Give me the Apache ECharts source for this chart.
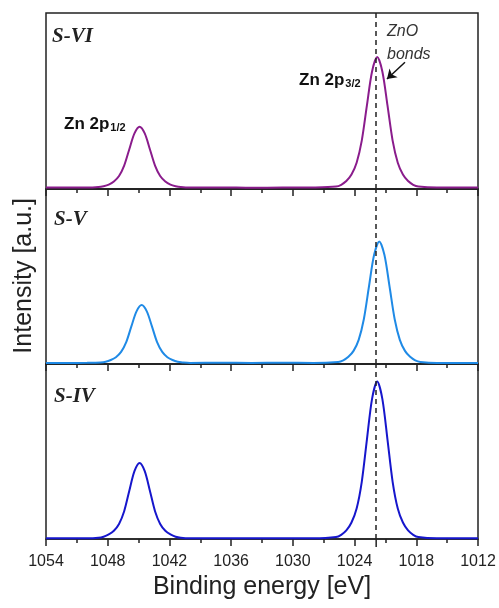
<!DOCTYPE html>
<html>
<head>
<meta charset="utf-8">
<script src="https://cdn.jsdelivr.net/npm/echarts@6/dist/echarts.min.js"></script>
<style>
  html, body { margin: 0; padding: 0; background: #fff; }
  #chart { width: 499px; height: 608px; }
</style>
</head>
<body>
<div id="chart"></div>
<script>
// binding energy grid (eV), denser around the two Zn 2p peaks
var energy = [1054, 1052, 1050,
  1048.9, 1048.4, 1047.9, 1047.4, 1046.9, 1046.4, 1045.9, 1045.4, 1044.9, 1044.4, 1043.9, 1043.4, 1042.9, 1042.4, 1041.9, 1041.4, 1040.9,
  1040, 1037, 1034, 1031, 1028,
  1025.8, 1025.3, 1024.8, 1024.3, 1023.8, 1023.3, 1022.8, 1022.3, 1021.8, 1021.3, 1020.8, 1020.3, 1019.8, 1019.3, 1018.8, 1018.3, 1017.8,
  1016, 1014, 1012];

// S-V peaks sit about 0.2 eV lower
var energyV = [1054, 1052, 1050,
  1048.7, 1048.2, 1047.7, 1047.2, 1046.7, 1046.2, 1045.7, 1045.2, 1044.7, 1044.2, 1043.7, 1043.2, 1042.7, 1042.2, 1041.7, 1041.2, 1040.7,
  1040, 1037, 1034, 1031, 1028,
  1025.6, 1025.1, 1024.6, 1024.1, 1023.6, 1023.1, 1022.6, 1022.1, 1021.6, 1021.1, 1020.6, 1020.1, 1019.6, 1019.1, 1018.6, 1018.1, 1017.6,
  1016, 1014, 1012];

// intensities (a.u., each panel scaled 0..1)
var sVI = [0.008, 0.009, 0.008,
  0.011, 0.016, 0.025, 0.043, 0.074, 0.133, 0.226, 0.316, 0.354, 0.316, 0.226, 0.133, 0.074, 0.043, 0.025, 0.016, 0.011,
  0.008, 0.009, 0.007, 0.008, 0.009,
  0.014, 0.024, 0.045, 0.082, 0.149, 0.275, 0.475, 0.668, 0.750, 0.668, 0.475, 0.275, 0.149, 0.082, 0.045, 0.024, 0.014,
  0.008, 0.009, 0.008];

var sV = [0.006, 0.006, 0.007,
  0.009, 0.013, 0.023, 0.039, 0.069, 0.125, 0.215, 0.301, 0.337, 0.301, 0.215, 0.125, 0.069, 0.039, 0.023, 0.013, 0.009,
  0.006, 0.007, 0.006, 0.007, 0.006,
  0.012, 0.021, 0.041, 0.075, 0.138, 0.256, 0.443, 0.624, 0.700, 0.624, 0.443, 0.256, 0.138, 0.075, 0.041, 0.021, 0.012,
  0.006, 0.006, 0.006];

var sIV = [0.004, 0.005, 0.004,
  0.007, 0.013, 0.026, 0.047, 0.086, 0.159, 0.276, 0.388, 0.435, 0.388, 0.276, 0.159, 0.086, 0.047, 0.026, 0.013, 0.007,
  0.004, 0.005, 0.004, 0.005, 0.004,
  0.011, 0.024, 0.049, 0.094, 0.174, 0.327, 0.568, 0.801, 0.900, 0.801, 0.568, 0.327, 0.174, 0.094, 0.049, 0.024, 0.011,
  0.004, 0.005, 0.004];

var xMin = 1012, xMax = 1054;
var tickLabels = ['1054', '1048', '1042', '1036', '1030', '1024', '1018', '1012'];
var znoLine = 1021.9;

function pairs(xs, ys) {
  return xs.map(function (e, i) { return [e, ys[i]]; });
}

var grids = [
  { left: 46, right: 21, top: 13, height: 176 },
  { left: 46, right: 21, top: 189, height: 175 },
  { left: 46, right: 21, top: 364, height: 175 }
];

function xAxis(idx, showLabels) {
  return {
    type: 'value', gridIndex: idx, min: xMin, max: xMax, interval: 6, inverse: true,
    axisLine: { show: true, lineStyle: { color: '#222', width: 1.5 } },
    axisTick: { show: true, inside: false, length: 7, lineStyle: { color: '#222', width: 1.5 } },
    minorTick: { show: true, splitNumber: 2, length: 4, lineStyle: { color: '#222', width: 1.5 } },
    splitLine: { show: false },
    axisLabel: {
      show: showLabels, color: '#222', fontSize: 16, fontFamily: 'Liberation Sans', margin: 15,
      formatter: function (v) { return tickLabels.indexOf(String(v)) >= 0 ? String(v) : ''; }
    },
    name: showLabels ? 'Binding energy [eV]' : '',
    nameLocation: 'middle', nameGap: 36,
    nameTextStyle: { color: '#222', fontSize: 25, fontFamily: 'Liberation Sans' }
  };
}

function yAxis(idx) {
  return {
    type: 'value', gridIndex: idx, min: 0, max: 1,
    axisLine: { show: false }, axisTick: { show: false },
    axisLabel: { show: false }, splitLine: { show: false }
  };
}

var dash = {
  silent: true, symbol: 'none', label: { show: false },
  lineStyle: { color: '#222', type: [5, 4], width: 1.5 },
  data: [{ xAxis: znoLine }]
};

function series(idx, xs, ys, color, extra) {
  return {
    type: 'line', xAxisIndex: idx, yAxisIndex: idx, data: pairs(xs, ys),
    smooth: 0.3, showSymbol: false, symbol: 'none',
    lineStyle: { color: color, width: 2 },
    markLine: extra || dash, z: 3
  };
}

// dashed ZnO line plus the arrow pointing at the 2p3/2 peak
var topMark = {
  silent: true, label: { show: false },
  data: [
    { xAxis: znoLine, lineStyle: { color: '#222', type: [5, 4], width: 1.5 }, symbol: 'none' },
    [
      { coord: [1019.1, 0.72], symbol: 'none' },
      { coord: [1020.85, 0.625], symbol: 'arrow', symbolSize: 9,
        lineStyle: { color: '#111', type: 'solid', width: 1.5 } }
    ]
  ],
  symbol: 'none',
  lineStyle: { color: '#111', type: [5, 4], width: 1.5 }
};

var serif = 'Liberation Serif';
var sans = 'Liberation Sans';
var subRich = {
  a: { font: 'bold 17px ' + sans, fill: '#111', verticalAlign: 'bottom' },
  b: { font: 'bold 11px ' + sans, fill: '#111', padding: [9, 0, 0, 1] }
};

var chart = echarts.init(document.getElementById('chart'), null, { renderer: 'canvas' });
chart.setOption({
  backgroundColor: '#fff',
  animation: false,
  grid: grids.map(function (g) {
    return Object.assign({ show: true, borderColor: '#222', borderWidth: 1.5, backgroundColor: 'transparent' }, g);
  }),
  xAxis: [xAxis(0, false), xAxis(1, false), xAxis(2, true)],
  yAxis: [yAxis(0), yAxis(1), yAxis(2)],
  series: [
    series(0, energy, sVI, '#8a1c8c', topMark),
    series(1, energyV, sV, '#1f8ae6'),
    series(2, energy, sIV, '#1616cc')
  ],
  graphic: [
    { id: 'lblVI', type: 'text', left: 52, top: 26, style: { text: 'S-VI', font: 'italic bold 21px ' + serif, fill: '#222' } },
    { id: 'lblV', type: 'text', left: 54, top: 209, style: { text: 'S-V', font: 'italic bold 21px ' + serif, fill: '#222' } },
    { id: 'lblIV', type: 'text', left: 54, top: 386, style: { text: 'S-IV', font: 'italic bold 21px ' + serif, fill: '#222' } },
    { id: 'p12', type: 'text', left: 64, top: 116, style: { text: '{a|Zn 2p}{b|1/2}', rich: subRich } },
    { id: 'p32', type: 'text', left: 299, top: 72, style: { text: '{a|Zn 2p}{b|3/2}', rich: subRich } },
    { id: 'zno', type: 'text', left: 387, top: 20, style: { text: 'ZnO\nbonds', font: 'italic 16px ' + sans, fill: '#333', lineHeight: 23 } },
    { id: 'ytitle', type: 'text', left: 12, top: 198, rotation: Math.PI / 2, style: {
        text: 'Intensity [a.u.]', font: '25px ' + sans, fill: '#222', align: 'center', verticalAlign: 'middle' } }
  ]
});

// the dashed ZnO line pokes a little below the bottom axis
var zx = chart.convertToPixel({ xAxisIndex: 2 }, znoLine);
var zy = chart.convertToPixel({ yAxisIndex: 2 }, 0);
chart.setOption({
  graphic: [{
    id: 'znoTail', type: 'line', silent: true,
    shape: { x1: zx, y1: zy, x2: zx, y2: zy + 8 },
    style: { stroke: '#222', lineWidth: 1.5 }
  }]
});
</script>
</body>
</html>
